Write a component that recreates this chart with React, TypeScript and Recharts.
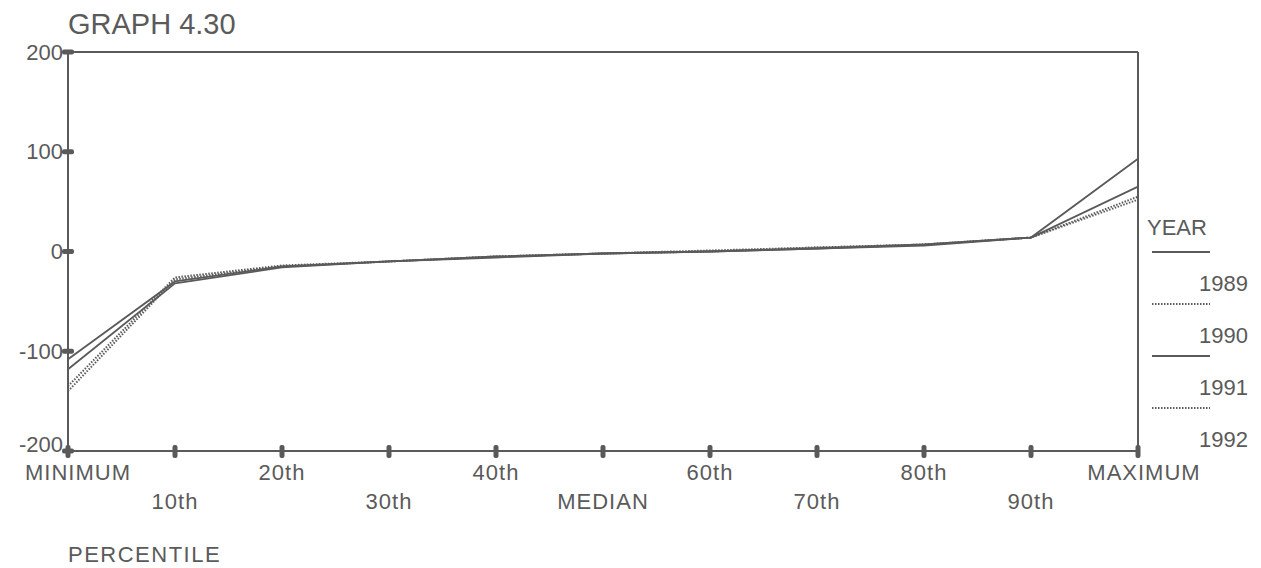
import { CartesianGrid, Line, LineChart, ReferenceLine, XAxis, YAxis } from "recharts";

const CATEGORIES = ["MINIMUM", "10th", "20th", "30th", "40th", "MEDIAN", "60th", "70th", "80th", "90th", "MAXIMUM"];
const YEARS = ["1989", "1990", "1991", "1992"];
const Y1989 = [-108, -30, -15, -10, -5, -2, 0, 3, 7, 14, 65];
const Y1990 = [-135, -26, -14, -10, -5, -2, 0, 4, 7, 14, 55];
const Y1991 = [-118, -32, -16, -10, -6, -2, 0, 3, 6, 14, 93];
const Y1992 = [-140, -28, -15, -10, -5, -2, 1, 4, 7, 14, 52];
const Y_TICKS = [-200, -100, 0, 100, 200];
const DOTTED = [false, true, false, true];

const INK = "#5a5a5a";
const FONT = '"Liberation Sans", Arial, sans-serif';

const data = CATEGORIES.map((c, i) => ({
  name: c,
  y1989: Y1989[i],
  y1990: Y1990[i],
  y1991: Y1991[i],
  y1992: Y1992[i],
}));

function XTick(props: any) {
  const { x, y, payload, index } = props;
  const dy = index % 2 === 0 ? 21 : 50;
  return (
    <g>
      <rect x={x - 2.5} y={y - 6} width={5} height={13} rx={2} fill={INK} />
      <text
        x={x + (index === 0 ? 10 : index === 10 ? 6 : 0)}
        y={y + dy}
        textAnchor="middle"
        dominantBaseline="central"
        fill={INK}
        fontSize={22}
        fontFamily={FONT}
        letterSpacing={1}
      >
        {payload.value}
      </text>
    </g>
  );
}

function YTick(props: any) {
  const { x, y, payload, index } = props;
  return (
    <g>
      <rect x={x - 6} y={y - 2.5} width={12} height={5} rx={2} fill={INK} />
      <text
        x={x - 5}
        y={index === 0 ? y - 7 : y}
        textAnchor="end"
        dominantBaseline="central"
        fill={INK}
        fontSize={22}
        fontFamily={FONT}
      >
        {payload.value}
      </text>
    </g>
  );
}

export default function App() {
  const keys = ["y1989", "y1990", "y1991", "y1992"];
  return (
    <div style={{ position: "relative", width: 1261, height: 568, background: "#fff", fontFamily: FONT, color: INK }}>
      <style>{`body{margin:0}`}</style>
      <div style={{ position: "absolute", left: 68, top: 8, fontSize: 29, lineHeight: "32px" }}>GRAPH 4.30</div>
      <LineChart width={1261} height={568} data={data} margin={{ top: 52, right: 123, bottom: 87, left: 8 }}>
        <CartesianGrid stroke="none" />
        <XAxis
          dataKey="name"
          tick={<XTick />}
          tickLine={false}
          tickSize={0}
          tickMargin={0}
          interval={0}
          axisLine={{ stroke: INK, strokeWidth: 2 }}
        />
        <YAxis
          domain={[-200, 200]}
          ticks={Y_TICKS}
          width={60}
          tick={<YTick />}
          tickLine={false}
          tickSize={0}
          tickMargin={0}
          axisLine={{ stroke: INK, strokeWidth: 2 }}
        />
        <ReferenceLine y={200} stroke={INK} strokeWidth={2} />
        <ReferenceLine x="MAXIMUM" stroke={INK} strokeWidth={2} />
        {keys.map((k, i) => (
          <Line
            key={k}
            dataKey={k}
            type="linear"
            stroke={INK}
            strokeWidth={DOTTED[i] ? 2 : 1.8}
            strokeDasharray={DOTTED[i] ? "1.5 1.5" : undefined}
            dot={false}
            isAnimationActive={false}
          />
        ))}
      </LineChart>
      <div style={{ position: "absolute", left: 1147, top: 214, fontSize: 22, lineHeight: "28px" }}>YEAR</div>
      {YEARS.map((yr, i) => (
        <div key={yr}>
          <svg style={{ position: "absolute", left: 1150, top: 250 + i * 52 }} width={62} height={4}>
            <line
              x1={2}
              x2={60}
              y1={2}
              y2={2}
              stroke={INK}
              strokeWidth={2}
              strokeDasharray={DOTTED[i] ? "1.5 1.5" : undefined}
            />
          </svg>
          <div
            style={{ position: "absolute", left: 1199, top: 270 + i * 52, fontSize: 22, lineHeight: "28px" }}
          >
            {yr}
          </div>
        </div>
      ))}
      <div style={{ position: "absolute", left: 68, top: 541, fontSize: 22, lineHeight: "28px", letterSpacing: 1.5 }}>
        PERCENTILE
      </div>
    </div>
  );
}
